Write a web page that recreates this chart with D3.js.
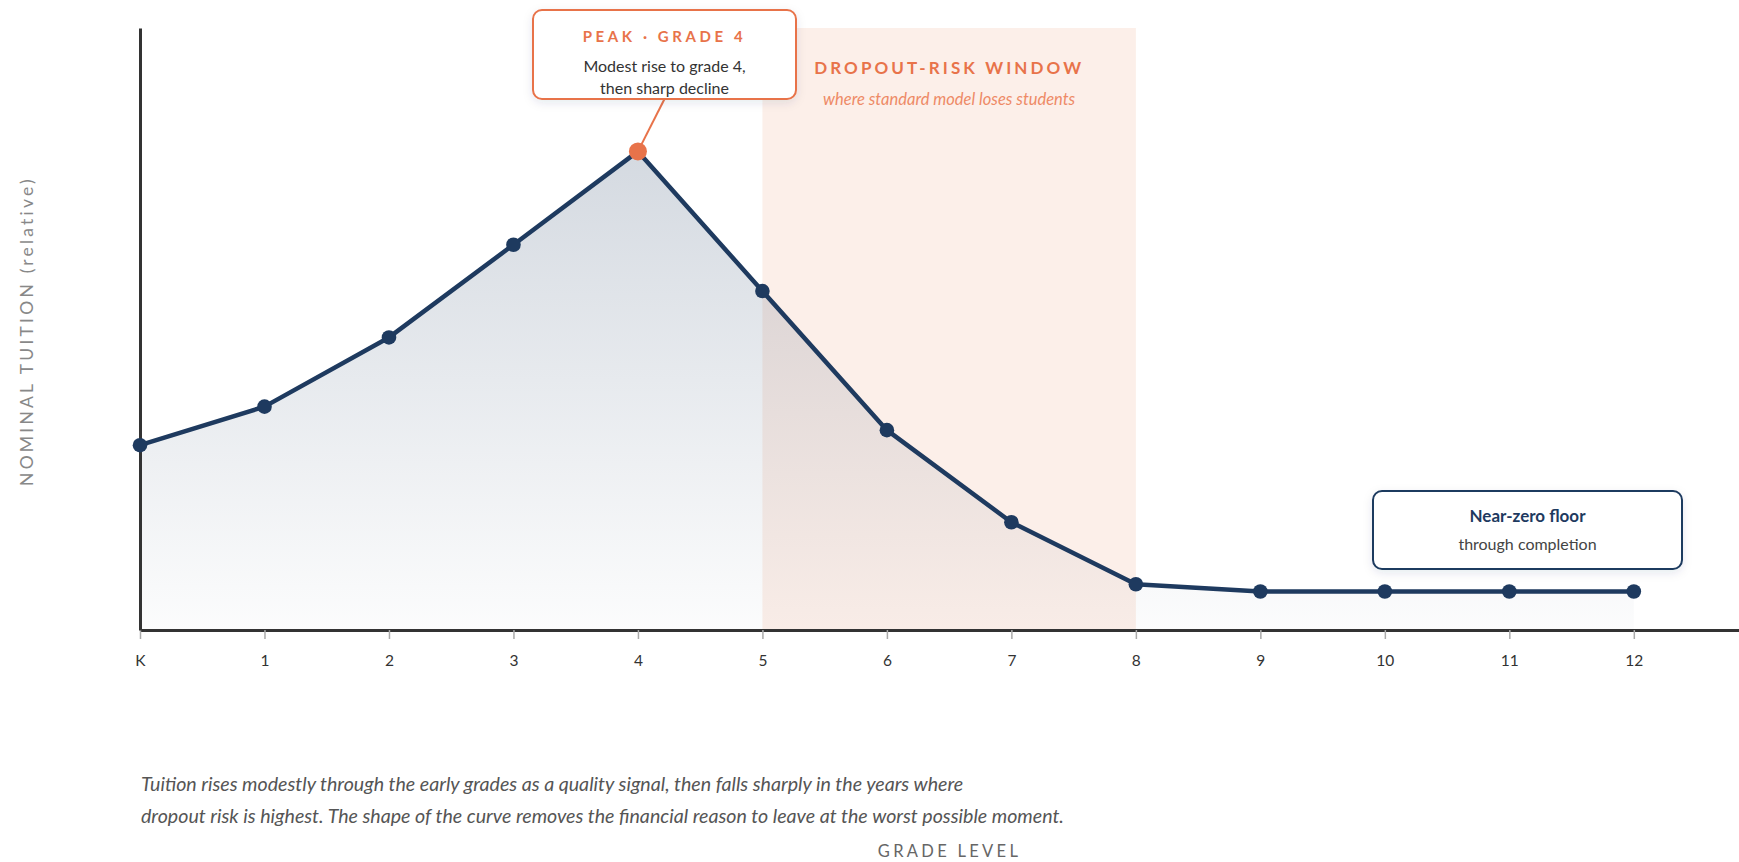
<!DOCTYPE html>
<html><head><meta charset="utf-8">
<script src="https://cdn.jsdelivr.net/npm/d3@7/dist/d3.min.js"></script>
<style>
html,body{margin:0;padding:0;background:#fff;}
svg{display:block;font-family:Lato,"Open Sans",sans-serif;}
</style></head>
<body><svg id="chart" width="1739" height="862"></svg>
<script>
// ---- data ----
const grades = ["K","1","2","3","4","5","6","7","8","9","10","11","12"];
const tuition = [30.7, 37.1, 48.6, 64.0, 79.5, 56.3, 33.2, 17.9, 7.6, 6.4, 6.4, 6.4, 6.4];
const peakIndex = 4;
const riskWindow = [5, 8];
const peakTitle = "PEAK · GRADE 4";
const peakLines = ["Modest rise to grade 4,", "then sharp decline"];
const windowTitle = "DROPOUT-RISK WINDOW";
const windowSub = "where standard model loses students";
const floorTitle = "Near-zero floor";
const floorSub = "through completion";
const captionLines = [
  "Tuition rises modestly through the early grades as a quality signal, then falls sharply in the years where",
  "dropout risk is highest. The shape of the curve removes the financial reason to leave at the worst possible moment."
];
const xTitle = "GRADE LEVEL";
const yTitle = "NOMINAL TUITION (relative)";

(function(){
const navy = "#1e3a5f", orange = "#e8734a";
const svg = d3.select("#chart");
const mLeft = 140, mRight = 1739, mTop = 28, mBottom = 630;

const x = d3.scaleLinear().domain([0, 12.845]).range([mLeft, mRight]);
const y = d3.scaleLinear().domain([0, 100]).range([mBottom, mTop]);

const defs = svg.append("defs");
const grad = defs.append("linearGradient").attr("id","areaGrad")
  .attr("gradientUnits","userSpaceOnUse").attr("x1",0).attr("x2",0)
  .attr("y1", y(d3.max(tuition))).attr("y2", mBottom);
grad.append("stop").attr("offset","0%").attr("stop-color",navy).attr("stop-opacity",0.19);
grad.append("stop").attr("offset","100%").attr("stop-color",navy).attr("stop-opacity",0.015);
const sh = defs.append("filter").attr("id","shadow").attr("x","-20%").attr("y","-30%").attr("width","140%").attr("height","170%");
sh.append("feDropShadow").attr("dx",0).attr("dy",3).attr("stdDeviation",5).attr("flood-color","#1e3a5f").attr("flood-opacity",0.10);

// risk window band
svg.append("rect")
  .attr("x", x(riskWindow[0])).attr("y", mTop)
  .attr("width", x(riskWindow[1]) - x(riskWindow[0]))
  .attr("height", mBottom - mTop)
  .attr("fill", "#fcefe9");

svg.append("text").attr("x",(x(riskWindow[0])+x(riskWindow[1]))/2).attr("y",74)
  .attr("text-anchor","middle").attr("fill",orange).attr("font-weight",700)
  .attr("font-size",17).attr("letter-spacing",3.1).text(windowTitle);
svg.append("text").attr("x",(x(riskWindow[0])+x(riskWindow[1]))/2).attr("y",105)
  .attr("text-anchor","middle").attr("fill","#ee8a66").attr("font-style","italic")
  .attr("font-size",16.5).text(windowSub);

// area
const area = d3.area().x((d,i)=>x(i)).y0(mBottom).y1(d=>y(d));
svg.append("path").datum(tuition).attr("d",area).attr("fill","url(#areaGrad)");

// axes
const xAxis = d3.axisBottom(x).tickValues(d3.range(grades.length))
  .tickFormat(i=>grades[i]).tickSize(9).tickPadding(16).tickSizeOuter(0);
const gx = svg.append("g").attr("transform",`translate(0,${mBottom})`).call(xAxis);
gx.select(".domain").attr("stroke","#333").attr("stroke-width",3);
gx.selectAll(".tick line").attr("stroke","#aaa").attr("stroke-width",1.5);
gx.selectAll(".tick text").attr("fill","#333").attr("font-size",15.5).attr("font-family","Lato, sans-serif");

const yAxis = d3.axisLeft(y).tickValues([]).tickSizeOuter(0);
const gy = svg.append("g").attr("transform",`translate(${mLeft},0)`).call(yAxis);
gy.select(".domain").attr("stroke","#333").attr("stroke-width",3);

// line
const line = d3.line().x((d,i)=>x(i)).y(d=>y(d));
svg.append("path").datum(tuition).attr("d",line).attr("fill","none")
  .attr("stroke",navy).attr("stroke-width",4.5).attr("stroke-linejoin","round");

// peak annotation
const boxX = 533, boxY = 10, boxW = 263, boxH = 89;
svg.append("line").attr("x1", boxX+boxW/2).attr("y1", boxY+boxH)
  .attr("x2", x(peakIndex)).attr("y2", y(tuition[peakIndex]))
  .attr("stroke",orange).attr("stroke-width",2);

svg.selectAll("circle.pt").data(tuition).join("circle").attr("class","pt")
  .attr("cx",(d,i)=>x(i)).attr("cy",d=>y(d))
  .attr("r",(d,i)=> i===peakIndex ? 9 : 7.3)
  .attr("fill",(d,i)=> i===peakIndex ? orange : navy);

svg.append("rect").attr("x",boxX).attr("y",boxY).attr("width",boxW).attr("height",boxH)
  .attr("rx",9).attr("fill","#fff").attr("stroke",orange).attr("stroke-width",2).attr("filter","url(#shadow)");
svg.append("text").attr("x",boxX+boxW/2).attr("y",42).attr("text-anchor","middle")
  .attr("fill",orange).attr("font-weight",700).attr("font-size",15).attr("letter-spacing",3.6).text(peakTitle);
svg.append("text").attr("x",boxX+boxW/2).attr("y",72).attr("text-anchor","middle")
  .attr("fill","#333").attr("font-size",16).text(peakLines[0]);
svg.append("text").attr("x",boxX+boxW/2).attr("y",94).attr("text-anchor","middle")
  .attr("fill","#333").attr("font-size",16).text(peakLines[1]);

// floor annotation
const fX = 1373, fY = 491, fW = 309, fH = 78;
svg.append("rect").attr("x",fX).attr("y",fY).attr("width",fW).attr("height",fH)
  .attr("rx",9).attr("fill","#fff").attr("stroke",navy).attr("stroke-width",2).attr("filter","url(#shadow)");
svg.append("text").attr("x",fX+fW/2).attr("y",522).attr("text-anchor","middle")
  .attr("fill",navy).attr("font-weight",700).attr("font-size",17).text(floorTitle);
svg.append("text").attr("x",fX+fW/2).attr("y",550).attr("text-anchor","middle")
  .attr("fill","#444").attr("font-size",16).text(floorSub);

// axis titles
svg.append("text").attr("transform","translate(33,331) rotate(-90)").attr("text-anchor","middle")
  .attr("fill","#888").attr("font-size",17.5).attr("letter-spacing",3.2).text(yTitle);
svg.append("text").attr("x",949.5).attr("y",857).attr("text-anchor","middle")
  .attr("fill","#666").attr("font-size",16.5).attr("letter-spacing",3.3).text(xTitle);

// caption
svg.selectAll("text.cap").data(captionLines).join("text").attr("class","cap")
  .attr("x",141).attr("y",(d,i)=>791+i*32)
  .attr("fill","#555").attr("font-style","italic").attr("font-size",19.6).text(d=>d);
})();
</script></body></html>
